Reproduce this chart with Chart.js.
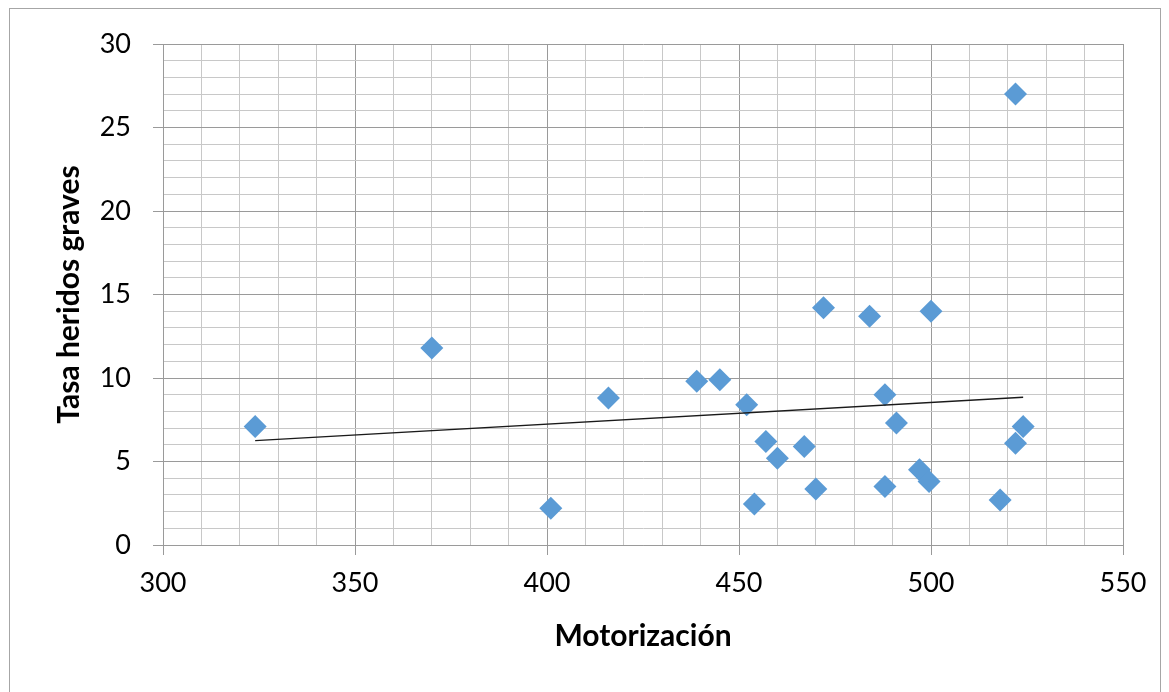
<!DOCTYPE html>
<html>
<head>
<meta charset="utf-8">
<script src="https://cdn.jsdelivr.net/npm/chart.js@4.4.1/dist/chart.umd.min.js"></script>
<style>
  html, body { margin: 0; padding: 0; background: #ffffff; }
  #wrap { width: 1169px; height: 692px; }
</style>
</head>
<body>
<div id="wrap"><canvas id="myChart" width="1169" height="692"></canvas></div>
<script>
// Motorización (x) y tasa de heridos graves (y)
var motorizacion = [324, 370, 401, 416, 439, 445, 452, 454, 457, 460, 467, 470, 472, 484, 488, 488, 491, 497, 499.5, 500, 518, 522, 522, 524];
var tasaHeridos  = [7.1, 11.8, 2.2, 8.8, 9.8, 9.9, 8.4, 2.45, 6.2, 5.2, 5.9, 3.35, 14.2, 13.7, 9.0, 3.5, 7.3, 4.5, 3.8, 14.0, 2.7, 27.0, 6.1, 7.1];

// línea de tendencia (extremos leídos)
var tendenciaX = [324, 524];
var tendenciaY = [6.25, 8.85];

var xMin = 300, xMax = 550, xMajor = 50, xMinor = 10;
var yMin = 0, yMax = 30, yMajor = 5, yMinor = 1;

var puntos = motorizacion.map(function (x, i) { return {x: x, y: tasaHeridos[i]}; });
var tendencia = tendenciaX.map(function (x, i) { return {x: x, y: tendenciaY[i]}; });

var MAJOR = '#9a9a9a';
var MINOR = '#c8c8c8';

function isMajor(v, step) {
  return Math.abs(Math.round(v) % step) === 0;
}

const frame = {
  id: 'frame',
  beforeDraw(chart) {
    const c = chart.ctx;
    c.save();
    c.fillStyle = '#ffffff';
    c.fillRect(0, 0, chart.width, chart.height);
    c.strokeStyle = '#a6a6a6';
    c.lineWidth = 1;
    c.strokeRect(9.5, 8.5, 1151, 700);
    c.restore();
  }
};

const ctx = document.getElementById('myChart');
new Chart(ctx, {
  type: 'scatter',
  data: {
    datasets: [{
      label: 'Tasa heridos graves',
      data: puntos,
      pointStyle: 'rectRot',
      pointRadius: 11.5,
      pointHoverRadius: 11.5,
      backgroundColor: '#5b9bd5',
      borderColor: '#5b9bd5',
      borderWidth: 0,
      order: 1
    }, {
      label: 'Lineal',
      data: tendencia,
      showLine: true,
      pointRadius: 0,
      borderColor: '#1a1a1a',
      borderWidth: 1.5,
      fill: false,
      order: 0
    }]
  },
  options: {
    responsive: false,
    animation: false,
    devicePixelRatio: 1,
    layout: { padding: { left: 0, top: 44, right: 46, bottom: 0 } },
    plugins: {
      legend: { display: false },
      tooltip: { enabled: false }
    },
    scales: {
      x: {
        type: 'linear',
        min: xMin,
        max: xMax,
        afterFit: function (scale) { scale.height = 147; },
        ticks: {
          stepSize: xMinor,
          autoSkip: false,
          maxRotation: 0,
          padding: 12,
          color: '#000000',
          font: { family: 'Lato', size: 27 },
          callback: function (value) { return isMajor(value, xMajor) ? value : ''; }
        },
        grid: {
          color: function (c) { return isMajor(c.tick.value, xMajor) ? MAJOR : MINOR; },
          tickColor: function (c) { return isMajor(c.tick.value, xMajor) ? MAJOR : 'rgba(0,0,0,0)'; },
          tickLength: 10,
          lineWidth: 1
        },
        border: { display: true, color: MAJOR },
        title: {
          display: true,
          text: 'Motorización',
          color: '#000000',
          font: { family: 'Lato', size: 30, weight: 'bold' },
          padding: { top: 0, bottom: 38 }
        }
      },
      y: {
        type: 'linear',
        min: yMin,
        max: yMax,
        afterFit: function (scale) { scale.width = 163; },
        ticks: {
          stepSize: yMinor,
          autoSkip: false,
          padding: 22,
          color: '#000000',
          font: { family: 'Lato', size: 27 },
          callback: function (value) { return isMajor(value, yMajor) ? value : ''; }
        },
        grid: {
          color: function (c) { return isMajor(c.tick.value, yMajor) ? MAJOR : MINOR; },
          tickColor: function (c) { return isMajor(c.tick.value, yMajor) ? MAJOR : 'rgba(0,0,0,0)'; },
          tickLength: 10,
          lineWidth: 1
        },
        border: { display: true, color: MAJOR },
        title: {
          display: true,
          text: 'Tasa heridos graves',
          color: '#000000',
          font: { family: 'Lato', size: 30, weight: 'bold' },
          padding: { top: 51, bottom: 0 }
        }
      }
    }
  },
  plugins: [frame]
});
</script>
</body>
</html>
